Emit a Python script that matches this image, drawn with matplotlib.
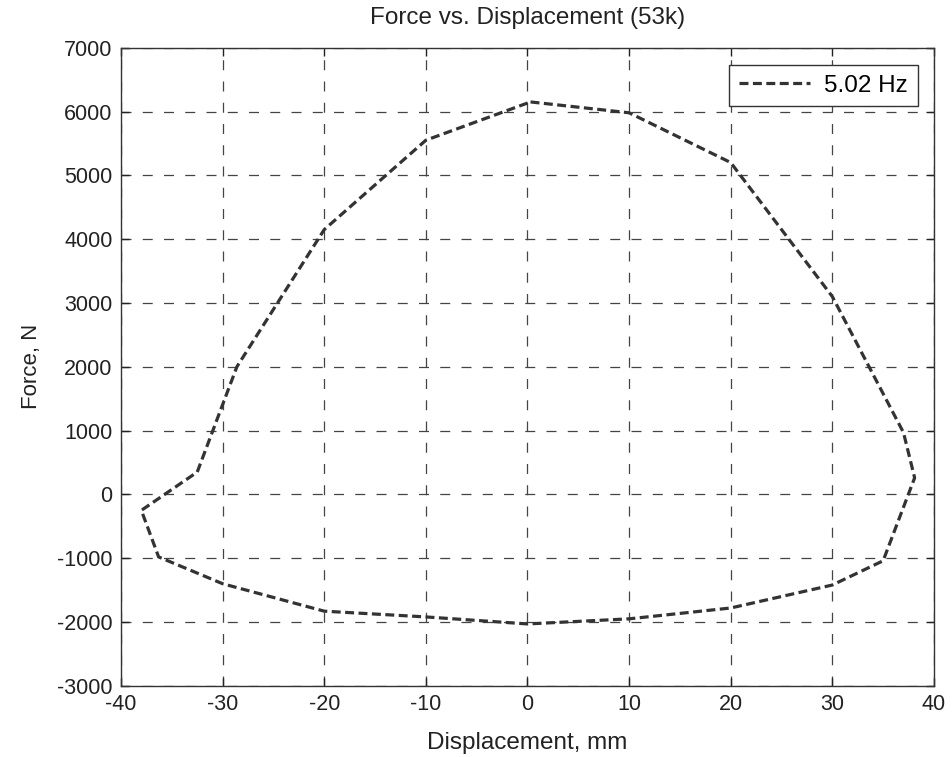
import matplotlib
matplotlib.use("Agg")
import matplotlib.pyplot as plt

plt.rcParams['font.family'] = ['Liberation Sans', 'DejaVu Sans']
plt.rcParams['axes.unicode_minus'] = False

disp_mm = [0.3, 10, 20, 30, 37, 38.1, 35, 30, 20, 10, 0, -10, -20, -30, -36.3, -38,
           -32.5, -28.6, -20, -10, 0.3]
force_N = [6150, 5980, 5200, 3100, 970, 260, -1040, -1420, -1780, -1950, -2030, -1920,
           -1830, -1400, -980, -250, 350, 2000, 4150, 5550, 6150]
xticks = [-40, -30, -20, -10, 0, 10, 20, 30, 40]
yticks = [-3000, -2000, -1000, 0, 1000, 2000, 3000, 4000, 5000, 6000, 7000]
series_label = "5.02 Hz"

fig = plt.figure(figsize=(9.53, 7.57), dpi=100)
ax = fig.add_axes([0.127, 0.094, 0.853, 0.843])
ax.plot(disp_mm, force_N, linestyle=(0, (2.8, 1.4)), color='#333333', linewidth=2.3,
        label=series_label)
ax.set_xlim(-40, 40)
ax.set_ylim(-3000, 7000)
ax.set_xticks(xticks)
ax.set_yticks(yticks)
ax.grid(True, linestyle=(0, (8, 9)), color='#444444', linewidth=0.9)
ax.tick_params(direction='in', top=True, right=True, labelsize=15.5, length=6, width=1,
               colors='#222222', pad=6)
for s in ax.spines.values():
    s.set_color('#333333')
    s.set_linewidth(1.0)
ax.set_title("Force vs. Displacement (53k)", fontsize=17.5, color='#222222', pad=17)
ax.set_xlabel("Displacement, mm", fontsize=17.5, color='#222222', labelpad=12)
ax.set_ylabel("Force, N", fontsize=16, color='#222222', labelpad=11)
leg = ax.legend(loc='upper right', fontsize=17.5, fancybox=False, edgecolor='#333333',
                framealpha=1, handlelength=2.9, handletextpad=0.6, borderpad=0.4,
                borderaxespad=0, bbox_to_anchor=(0.980, 0.973))
leg.get_frame().set_linewidth(1.0)
fig.savefig("out.png", dpi=100)
